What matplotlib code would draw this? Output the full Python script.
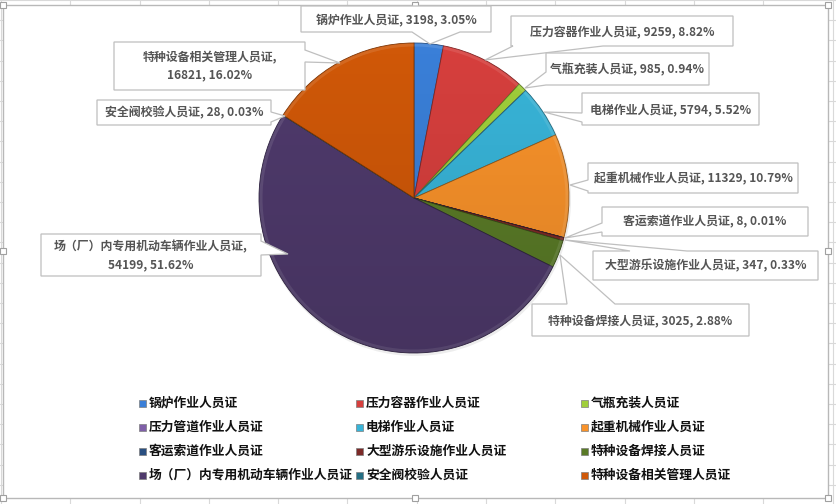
import numpy as np
import matplotlib.pyplot as plt
from matplotlib.patches import Rectangle, Polygon, Circle, Wedge

plt.rcParams['font.family'] = ['Noto Sans CJK SC', 'DejaVu Sans']

W, H = 837, 504

categories = ['锅炉作业人员证', '压力容器作业人员证', '气瓶充装人员证', '压力管道作业人员证',
              '电梯作业人员证', '起重机械作业人员证', '客运索道作业人员证', '大型游乐设施作业人员证',
              '特种设备焊接人员证', '场（厂）内专用机动车辆作业人员证', '安全阀校验人员证',
              '特种设备相关管理人员证']
counts = [3198, 9259, 985, 0, 5794, 11329, 8, 347, 3025, 54199, 28, 16821]
colors = ['#3a7fd8', '#d63f3d', '#a0cf3a', '#7f5fa8', '#38b4d8', '#f8922a',
          '#294f80', '#7c2a28', '#5a7b27', '#4f3a6c', '#246f84', '#d05808']

# callout layout in pixels: box (x0, y0, x1, y1), side of pointer, base span, tip, two lines?
callouts = {
    0: ((301, 6, 491, 32), 'bottom', (412, 460), (430, 44), False),
    1: ((511, 16, 733, 46), 'bottom', (513, 603), (485, 60), False),
    2: ((546, 53, 709, 85), 'left', (72, 85), (525, 88), False),
    4: ((582, 93, 759, 125), 'left', (113, 122), (544, 112), False),
    5: ((588, 163, 798, 193), 'left', (180, 191), (570, 185), False),
    6: ((602, 207, 808, 236), 'left', (223, 232), (565, 238), False),
    7: ((593, 251, 818, 280), 'top', (630, 687), (565, 240), False),
    8: ((532, 304, 749, 336), 'top', (567, 615), (560, 255), False),
    9: ((41, 234, 261, 276), 'right', (241, 255), (288, 254), True),
    10: ((97, 100, 271, 125), 'right', (112, 122), (285, 116), False),
    11: ((114, 42, 305, 90), 'right', (50, 62), (340, 63), True),
}

fig = plt.figure(figsize=(W / 100, H / 100), dpi=100)
ax = fig.add_axes([0, 0, 1, 1])

# spreadsheet grid behind the chart
for x in np.arange(1, W, 69.3):
    ax.plot([x, x], [0, H], color='#d9d9d9', lw=0.8, zorder=0)
for y in np.arange(0, H, 20.2):
    ax.plot([0, W], [y, y], color='#d9d9d9', lw=0.8, zorder=0)
ax.add_patch(Rectangle((3, 5), 825, 493, facecolor='white', edgecolor='#b8b8b8', lw=1, zorder=1))
for hx, hy in [(3, 5), (415, 5), (828, 5), (3, 251), (828, 251), (3, 498), (415, 498), (828, 498)]:
    ax.add_patch(Rectangle((hx - 3, hy - 3), 6, 6, facecolor='white', edgecolor='#a0a0a0', lw=0.8, zorder=2))

cx, cy, R = 414, 198, 155
total = sum(counts)

# soft shadow
ax.add_patch(Circle((cx + 1, cy + 2), R + 1, facecolor='#000000', alpha=0.07, lw=0, zorder=2))

wedges, _ = ax.pie(counts, colors=colors, startangle=-90, counterclock=True,
                   center=(cx, cy), radius=R, frame=True,
                   wedgeprops=dict(linewidth=0.6, zorder=3))
for w, c in zip(wedges, colors):
    rgb = np.array(plt.matplotlib.colors.to_rgb(c))
    w.set_edgecolor(rgb * 0.6)
    w.set_zorder(3)
    # bevel highlight along the rim
    ax.add_patch(Wedge((cx, cy), R - 0.5, w.theta1, w.theta2, width=3,
                       facecolor='white', alpha=0.1, lw=0, zorder=4))

# darkening toward the bottom of the pie
shade = np.zeros((256, 1, 4))
shade[:, 0, 3] = np.linspace(0, 0.12, 256)
img = ax.imshow(shade, extent=(cx - R, cx + R, cy + R, cy - R), zorder=5, aspect='auto')
img.set_clip_path(Circle((cx, cy), R, transform=ax.transData))

# callout labels
for i, (box, side, base, tip, two) in callouts.items():
    x0, y0, x1, y1 = box
    a, b = base
    TL, TR, BR, BL = (x0, y0), (x1, y0), (x1, y1), (x0, y1)
    if side == 'top':
        pts = [TL, (a, y0), tip, (b, y0), TR, BR, BL]
    elif side == 'right':
        pts = [TL, TR, (x1, a), tip, (x1, b), BR, BL]
    elif side == 'bottom':
        pts = [TL, TR, BR, (b, y1), tip, (a, y1), BL]
    else:
        pts = [TL, TR, BR, BL, (x0, b), tip, (x0, a)]
    ax.add_patch(Polygon(pts, closed=True, facecolor='white', edgecolor='#bfbfbf', lw=0.9, zorder=6))
    pct = f'{counts[i] / total * 100:.2f}%'
    sep = ',\n' if two else ', '
    txt = f'{categories[i]}{sep}{counts[i]}, {pct}'
    ax.text((x0 + x1) / 2, (y0 + y1) / 2 + 0.5, txt, ha='center', va='center',
            fontsize=8.6, fontweight='bold', color='#555555', linespacing=1.45, zorder=7)

# legend, row by row
col_x = [143, 360, 585]
row_y = [403, 427, 451, 475]
for i, (cat, c) in enumerate(zip(categories, colors)):
    lx, ly = col_x[i % 3], row_y[i // 3]
    ax.add_patch(Rectangle((lx - 3.5, ly - 3.5), 7, 7, facecolor=c, edgecolor='#7f7f7f',
                           lw=0.5, zorder=6))
    ax.text(lx + 6, ly, cat, ha='left', va='center', fontsize=9.2, fontweight='bold',
            color='#111111', zorder=7)

ax.set_xlim(0, W)
ax.set_ylim(H, 0)
ax.axis('off')
fig.savefig('out.png', dpi=100)
